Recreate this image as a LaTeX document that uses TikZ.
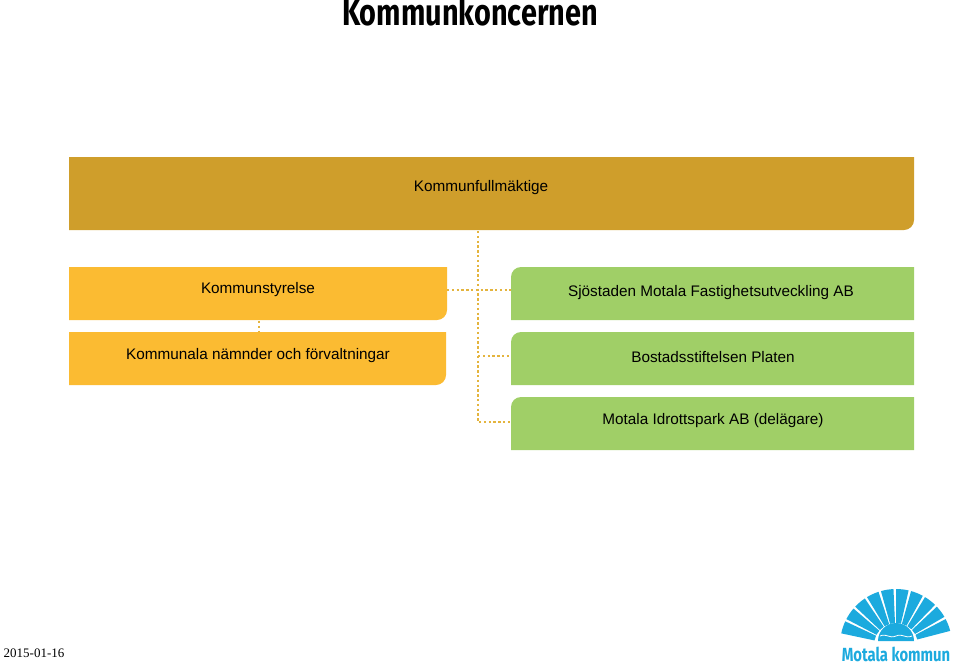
\documentclass[tikz,border=0pt]{standalone}
\usepackage{fontspec}
\setmainfont{Liberation Sans}
\newfontfamily\titlefont[FakeStretch=0.78]{Fira Sans}
\newfontfamily\datefont{Liberation Serif}
\definecolor{gold}{RGB}{207,158,43}
\definecolor{orangebox}{RGB}{251,187,50}
\definecolor{greenbox}{RGB}{160,207,103}
\definecolor{dotcol}{RGB}{228,180,62}
\definecolor{logoblue}{RGB}{28,170,222}
\tikzset{every picture/.style={line width=0.75pt}}
\tikzset{
  dotline/.style={dotcol, line width=2.4pt, dash pattern=on 2.4pt off 2.4pt},
  lbl/.style={font=\fontsize{15.3}{17}\selectfont, text=black}
}
\begin{document}
\begin{tikzpicture}[x=1pt,y=1pt,yscale=-1,xscale=1]
		\useasboundingbox (0,0) rectangle (960,666);

		% title
		\node (title) at (470,12) {\titlefont\bfseries\fontsize{37}{39}\selectfont Kommunkoncernen};

		% boxes
		\draw [fill=gold, draw=none] (69,157) -- (914,157) -- (914,220) arc[start angle=0, end angle=90, radius=10] -- (69,230) -- cycle;
		\draw [fill=orangebox, draw=none] (69,267) -- (447,267) -- (447,310) arc[start angle=0, end angle=90, radius=10] -- (69,320) -- cycle;
		\draw [fill=orangebox, draw=none] (69,332) -- (446,332) -- (446,375) arc[start angle=0, end angle=90, radius=10] -- (69,385) -- cycle;
		\foreach \y in {267,332,397}
			\draw [fill=greenbox, draw=none] (511,\y+53) -- (511,\y+10) arc[start angle=180, end angle=270, radius=10] -- (914,\y) -- (914,\y+53) -- cycle;

		\node [lbl] (kf) at (481,188) {Kommunfullmäktige};
		\node [lbl] (ks) at (258,290) {Kommunstyrelse};
		\node [lbl] (kn) at (258,356) {Kommunala nämnder och förvaltningar};
		\node [lbl] (sj) at (711,293) {Sjöstaden Motala Fastighetsutveckling AB};
		\node [lbl] (bo) at (713,357) {Bostadsstiftelsen Platen};
		\node [lbl] (ip) at (713,421) {Motala Idrottspark AB (delägare)};

		% connectors
		\coordinate (top) at (478,231);
		\coordinate (j1) at (478,290);
		\coordinate (j2) at (478,356);
		\coordinate (j3) at (478,422);
		\draw [dotline] (top) -- (j3) -- (511,422);
		\draw [dotline] (447,290) -- (511,290);
		\draw [dotline] (j2) -- (511,356);
		\draw [dotline] (259,321) -- (259,332);

		% date
		\node [anchor=west] (date) at (0,653) {\datefont\fontsize{13}{15}\selectfont 2015-01-16};

		% logo
		\foreach \i in {0,...,9}
			\fill [logoblue] (896,645) ++ ({-168+\i*15.6}:22) arc[start angle={-168+\i*15.6}, end angle={-168+\i*15.6+13}, radius=22]
				-- ++ ({-168+\i*15.6+13}:34) arc[start angle={-168+\i*15.6+13}, end angle={-168+\i*15.6}, radius=56] -- cycle;
		\fill [logoblue] (878,641) arc[start angle=180, end angle=360, radius=18] -- cycle;
		\draw [white, line width=0.8pt] (880,636) .. controls (887,633) and (889,639) .. (896,636) .. controls (903,633) and (905,639) .. (912,636);
		\node [text=logoblue, font=\titlefont\bfseries\fontsize{19}{21}\selectfont] (logotext) at (896,654) {Motala kommun};
		\end{tikzpicture}
\end{document}
